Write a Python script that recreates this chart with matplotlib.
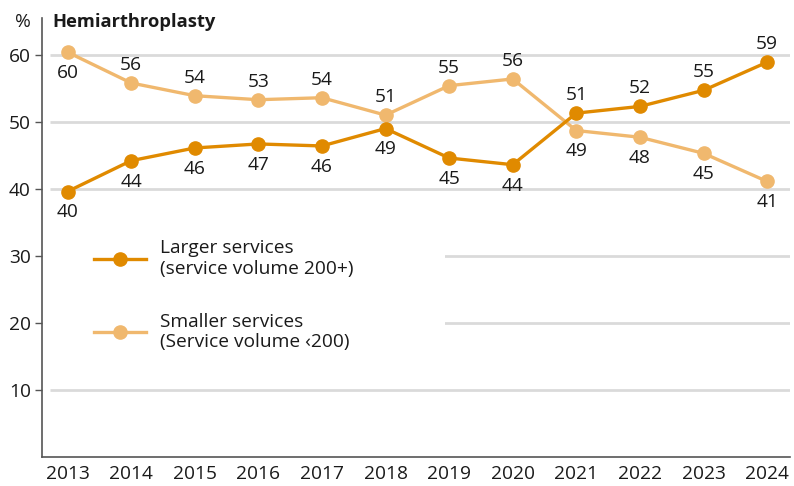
import matplotlib.pyplot as plt
from matplotlib.patches import Rectangle

plt.rcParams['font.family'] = ['Open Sans', 'DejaVu Sans']

years = [2013, 2014, 2015, 2016, 2017, 2018, 2019, 2020, 2021, 2022, 2023, 2024]
larger = [39.6, 44.2, 46.1, 46.7, 46.4, 49.0, 44.6, 43.6, 51.3, 52.3, 54.7, 58.9]
smaller = [60.4, 55.8, 53.9, 53.3, 53.6, 51.0, 55.4, 56.4, 48.7, 47.7, 45.3, 41.1]
yticks = [10, 20, 30, 40, 50, 60]

dark = '#E08A00'
light = '#F0B86E'
grid = '#DADADA'
text = '#1A1A1A'
fs = 13.8

fig = plt.figure(figsize=(7.94, 4.86), dpi=100)
ax = fig.add_axes([0.053, 0.06, 0.942, 0.903])
ax.set_xlim(2012.6, 2024.36)
ax.set_ylim(0, 65.5)

for y in yticks:
    ax.hlines(y, 2012.73, 2024.36, color=grid, lw=2, zorder=0)

# white block behind the legend hides part of the grid
ax.add_patch(Rectangle((0.005, 0.19), 0.534, 0.38, transform=ax.transAxes,
                       facecolor='white', edgecolor='none', zorder=1))

ax.plot(years, smaller, color=light, lw=2.4, marker='o', ms=9.5, zorder=3,
        label='Smaller services\n(Service volume ‹200)')
ax.plot(years, larger, color=dark, lw=2.4, marker='o', ms=9.5, zorder=4,
        label='Larger services\n(service volume 200+)')


def put_label(x, v, above):
    dy = 13 if above else -15
    ax.annotate(f'{round(v)}', (x, v), xytext=(0, dy), textcoords='offset points',
                ha='center', va='center', fontsize=fs, color=text)


for x, a, b in zip(years, larger, smaller):
    top, low = (a, b) if a > b else (b, a)
    # no room above the highest values, so those go underneath
    put_label(x, top, top < 60)
    put_label(x, low, False)

handles, labels = ax.get_legend_handles_labels()
leg = ax.legend(handles[::-1], labels[::-1], loc='upper left',
                bbox_to_anchor=(0.047, 0.535), frameon=False, fontsize=fs,
                handlelength=2.7, handletextpad=0.7, labelspacing=1.8)
for t in leg.get_texts():
    t.set_color(text)
    t.set_linespacing(1.2)

ax.set_xticks(years)
ax.set_xticklabels([str(y) for y in years])
ax.set_yticks(yticks)
ax.tick_params(axis='x', length=0, pad=6, labelsize=fs, colors=text)
ax.tick_params(axis='y', length=5, width=1, pad=3, labelsize=fs,
               colors='#555555', labelcolor=text)
for s in ['top', 'right']:
    ax.spines[s].set_visible(False)
for s in ['left', 'bottom']:
    ax.spines[s].set_color('#555555')
    ax.spines[s].set_linewidth(1.2)

fig.text(0.019, 0.955, '%', fontsize=fs, color=text, va='center')
fig.text(0.066, 0.955, 'Hemiarthroplasty', fontsize=13.2, fontweight='bold',
         color=text, va='center')

fig.savefig('out.png', dpi=100)
